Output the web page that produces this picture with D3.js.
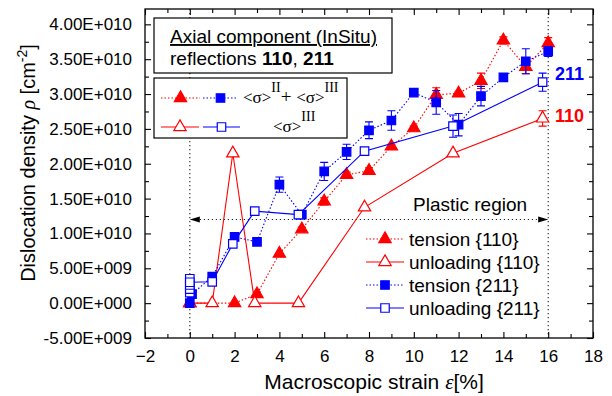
<!DOCTYPE html>
<html lang="en">
<head>
<meta charset="UTF-8">
<title>Dislocation density vs strain</title>
<script src="https://d3js.org/d3.v7.min.js"></script>
<style>
  body { margin: 0; background: white; }
  svg { font-family: "Liberation Sans", Arial, sans-serif; }
  .serif { font-family: "Liberation Serif", "Times New Roman", serif; }
</style>
</head>
<body>
<script>
// strain values [%]
var tensionX = [0, 2, 3, 4, 5, 6, 7, 8, 9, 10, 11, 12, 13, 14, 15, 16];
var tension110 = [0, 0, 1.3e9, 7.1e9, 1.06e10, 1.46e10, 1.84e10, 1.90e10, 2.25e10, 2.51e10, 2.99e10, 3.01e10, 3.19e10, 3.77e10, 3.39e10, 3.73e10];
var tension110Err = [0, 0, 0.3e9, 0, 0.3e9, 0.5e9, 0.4e9, 0.4e9, 0.3e9, 0.3e9, 1.0e9, 0.3e9, 1.1e9, 0.5e9, 1.0e9, 0.8e9];

var tension211X = [0, 0.1, 1, 2, 3, 4, 5, 6, 7, 8, 9, 10, 11, 12, 13, 14, 15, 16];
var tension211 = [0, 1.3e9, 3.8e9, 9.5e9, 8.8e9, 1.70e10, 1.27e10, 1.89e10, 2.17e10, 2.48e10, 2.62e10, 3.02e10, 2.88e10, 2.56e10, 2.97e10, 3.24e10, 3.47e10, 3.61e10];
var tension211Err = [0, 0, 0, 0, 0, 1.1e9, 0.3e9, 1.3e9, 1.1e9, 1.2e9, 1.4e9, 0.3e9, 1.7e9, 1.6e9, 1.4e9, 0, 1.8e9, 0.7e9];

var unload110X = [0, 1, 1.92, 2.9, 4.85, 7.8, 11.75, 15.75];
var unload110 = [0, 0, 2.15e10, 0, 0, 1.375e10, 2.15e10, 2.65e10];
var unload110Err = [0, 0, 0, 0, 0, 0, 0, 1.1e9];

var unload211X = [0, 0, 0, 0, 0, 1, 1.92, 2.9, 4.85, 7.8, 11.75, 15.75];
var unload211 = [1.5e9, 2.0e9, 2.6e9, 3.5e9, 3.0e9, 3.06e9, 8.5e9, 1.32e10, 1.27e10, 2.18e10, 2.54e10, 3.17e10];
var unload211Err = [0, 0, 0, 0, 0, 0, 0, 0, 0, 0, 1.6e9, 1.3e9];

var xTicks = [-2, 0, 2, 4, 6, 8, 10, 12, 14, 16, 18];
var yTicks = [-5e9, 0, 5e9, 1e10, 1.5e10, 2e10, 2.5e10, 3e10, 3.5e10, 4e10];
var plasticLevel = 1.2e10;
var plasticFrom = 0, plasticTo = 16;

var W = 612, H = 396;
var pLeft = 145, pRight = 593, pTop = 9, pBottom = 338;

var svg = d3.select("body").append("svg").attr("width", W).attr("height", H);

var x = d3.scaleLinear().domain([-2, 18]).range([pLeft, pRight]);
var y = d3.scaleLinear().domain([-5e9, 4.22e10]).range([pBottom, pTop]);

var RED = "#ff0000", BLUE = "#0000ff";

function sciLabel(v) {
    if (v === 0) return "0.00E+000";
    var e = Math.floor(Math.log10(Math.abs(v)));
    var m = v / Math.pow(10, e);
    return m.toFixed(2) + "E+" + String(e).padStart(3, "0");
}

// reference lines
svg.append("line").attr("x1", x(0)).attr("x2", x(0)).attr("y1", pTop).attr("y2", pBottom)
    .attr("stroke", "#333").attr("stroke-width", 1.2).attr("stroke-dasharray", "1.2,2.8");
svg.append("line").attr("x1", x(16)).attr("x2", x(16)).attr("y1", pTop).attr("y2", pBottom)
    .attr("stroke", "#333").attr("stroke-width", 1.2).attr("stroke-dasharray", "1.2,2.8");

// plastic region arrow
var ay = y(plasticLevel);
svg.append("line").attr("x1", x(plasticFrom) + 6).attr("x2", x(plasticTo) - 6)
    .attr("y1", ay).attr("y2", ay)
    .attr("stroke", "#222").attr("stroke-width", 1.2).attr("stroke-dasharray", "1.2,2.8");
svg.append("path").attr("d", "M" + x(plasticFrom) + "," + ay + "l10,-3l0,6z").attr("fill", "#000");
svg.append("path").attr("d", "M" + x(plasticTo) + "," + ay + "l-10,-3l0,6z").attr("fill", "#000");
svg.append("text").attr("x", 413).attr("y", 211).attr("font-size", 19).text("Plastic region");

// series
var series = [
    { xs: tensionX, ys: tension110, err: tension110Err, color: RED, dash: "1.5,2", shape: d3.symbolTriangle, fill: true },
    { xs: unload110X, ys: unload110, err: unload110Err, color: RED, dash: null, shape: d3.symbolTriangle, fill: false },
    { xs: tension211X, ys: tension211, err: tension211Err, color: BLUE, dash: "1.5,2", shape: d3.symbolSquare, fill: true },
    { xs: unload211X, ys: unload211, err: unload211Err, color: BLUE, dash: null, shape: d3.symbolSquare, fill: false }
];

var line = d3.line().x(d => x(d[0])).y(d => y(d[1]));

function markerPath(shape) {
    return d3.symbol().type(shape).size(shape === d3.symbolTriangle ? 66 : 72)();
}

series.forEach(function (s) {
    var pts = s.xs.map((v, i) => [v, s.ys[i], s.err[i]]);
    var g = svg.append("g");
    g.append("path").datum(pts).attr("d", line).attr("fill", "none")
        .attr("stroke", s.color).attr("stroke-width", 1.1)
        .attr("stroke-dasharray", s.dash);
    pts.filter(d => d[2] > 0).forEach(function (d) {
        var cx = x(d[0]), y1 = y(d[1] - d[2]), y2 = y(d[1] + d[2]);
        g.append("path").attr("d", "M" + cx + "," + y1 + "V" + y2 + "M" + (cx - 4) + "," + y1 + "h8M" + (cx - 4) + "," + y2 + "h8")
            .attr("stroke", s.color).attr("stroke-width", 1.1).attr("fill", "none");
    });
    g.selectAll(".m").data(pts).enter().append("path")
        .attr("d", markerPath(s.shape))
        .attr("transform", d => "translate(" + x(d[0]) + "," + y(d[1]) + ")")
        .attr("fill", s.fill ? s.color : "white")
        .attr("stroke", s.color).attr("stroke-width", 1.2);
});

// frame and axes
svg.append("rect").attr("x", pLeft).attr("y", pTop).attr("width", pRight - pLeft).attr("height", pBottom - pTop)
    .attr("fill", "none").attr("stroke", "#000").attr("stroke-width", 1.3);

svg.append("g").attr("transform", "translate(0," + pBottom + ")")
    .call(d3.axisBottom(x).tickValues(xTicks).tickSize(-6).tickPadding(12).tickFormat(d3.format("d")));
svg.append("g").attr("transform", "translate(0," + pTop + ")")
    .call(d3.axisTop(x).tickValues(xTicks).tickSize(-6).tickFormat(""));
svg.append("g").attr("transform", "translate(" + pLeft + ",0)")
    .call(d3.axisLeft(y).tickValues(yTicks).tickSize(-6).tickPadding(13).tickFormat(sciLabel));
svg.append("g").attr("transform", "translate(" + pRight + ",0)")
    .call(d3.axisRight(y).tickValues(yTicks).tickSize(-6).tickFormat(""));

var xMinor = d3.range(-1, 18, 2);
var yMinor = yTicks.map(v => v + 2.5e9).filter(v => v < 4.22e10);
svg.append("g").attr("transform", "translate(0," + pBottom + ")")
    .call(d3.axisBottom(x).tickValues(xMinor).tickSize(-4).tickFormat(""));
svg.append("g").attr("transform", "translate(0," + pTop + ")")
    .call(d3.axisTop(x).tickValues(xMinor).tickSize(-4).tickFormat(""));
svg.append("g").attr("transform", "translate(" + pLeft + ",0)")
    .call(d3.axisLeft(y).tickValues(yMinor).tickSize(-4).tickFormat(""));
svg.append("g").attr("transform", "translate(" + pRight + ",0)")
    .call(d3.axisRight(y).tickValues(yMinor).tickSize(-4).tickFormat(""));

svg.selectAll(".domain").remove();
svg.selectAll(".tick line").attr("stroke", "#000").attr("stroke-width", 1.1);
svg.selectAll(".tick text").attr("font-size", 17).attr("fill", "#000")
    .attr("font-family", "Liberation Sans, Arial, sans-serif");

// axis titles
svg.append("text").attr("x", 374).attr("y", 389).attr("text-anchor", "middle").attr("font-size", 21)
    .html('Macroscopic strain <tspan class="serif" font-style="italic">ε</tspan>[%]');
var yt = svg.append("text").attr("transform", "translate(35,163) rotate(-90)")
    .attr("text-anchor", "middle").attr("font-size", 20);
yt.append("tspan").text("Dislocation density ");
yt.append("tspan").attr("class", "serif").attr("font-style", "italic").text("ρ");
yt.append("tspan").text(" [cm");
yt.append("tspan").attr("dy", -8).attr("font-size", 14).text("-2");
yt.append("tspan").attr("dy", 8).text("]");

// right labels
svg.append("text").attr("x", 555).attr("y", 80).attr("font-size", 18).attr("font-weight", "bold")
    .attr("fill", BLUE).text("211");
svg.append("text").attr("x", 555).attr("y", 122).attr("font-size", 18).attr("font-weight", "bold")
    .attr("fill", RED).text("110");

// title box
svg.append("rect").attr("x", 154).attr("y", 18).attr("width", 238).attr("height", 55)
    .attr("fill", "white").attr("stroke", "#000").attr("stroke-width", 1.2);
svg.append("text").attr("x", 170).attr("y", 43).attr("font-size", 19)
    .attr("text-decoration", "underline").text("Axial component (InSitu)");
var t2 = svg.append("text").attr("x", 170).attr("y", 65).attr("font-size", 19);
t2.append("tspan").text("reflections ");
t2.append("tspan").attr("font-weight", "bold").text("110");
t2.append("tspan").text(", ");
t2.append("tspan").attr("font-weight", "bold").text("211");

// stress legend box
svg.append("rect").attr("x", 154).attr("y", 78).attr("width", 193).attr("height", 60)
    .attr("fill", "white").attr("stroke", "#000").attr("stroke-width", 1.2);

function sample(gx1, gx2, gy, s) {
    svg.append("line").attr("x1", gx1).attr("x2", gx2).attr("y1", gy).attr("y2", gy)
        .attr("stroke", s.color).attr("stroke-width", 1.1).attr("stroke-dasharray", s.dash);
    svg.append("path").attr("d", markerPath(s.shape))
        .attr("transform", "translate(" + ((gx1 + gx2) / 2) + "," + gy + ")")
        .attr("fill", s.fill ? s.color : "white").attr("stroke", s.color).attr("stroke-width", 1.2);
}
sample(161, 200, 98, series[0]);
sample(203, 238, 98, series[2]);
sample(161, 199, 127, series[1]);
sample(203, 240, 127, series[3]);

var s1 = svg.append("text").attr("class", "serif").attr("x", 243).attr("y", 103).attr("font-size", 17);
s1.append("tspan").text("<σ>");
s1.append("tspan").attr("dy", -11).attr("font-size", 14).text("II");
s1.append("tspan").attr("dy", 11).attr("font-size", 19).text("+ ");
s1.append("tspan").text("<σ>");
s1.append("tspan").attr("dy", -11).attr("font-size", 14).text("III");
var s2 = svg.append("text").attr("class", "serif").attr("x", 273).attr("y", 132).attr("font-size", 17);
s2.append("tspan").text("<σ>");
s2.append("tspan").attr("dy", -11).attr("font-size", 14).text("III");

// series legend
var legendNames = ["tension {110}", "unloading {110}", "tension {211}", "unloading {211}"];
legendNames.forEach(function (name, i) {
    var gy = 239 + i * 23;
    sample(366, 404, gy, series[i]);
    svg.append("text").attr("x", 409).attr("y", gy + 7).attr("font-size", 19).text(name);
});
</script>
</body>
</html>
